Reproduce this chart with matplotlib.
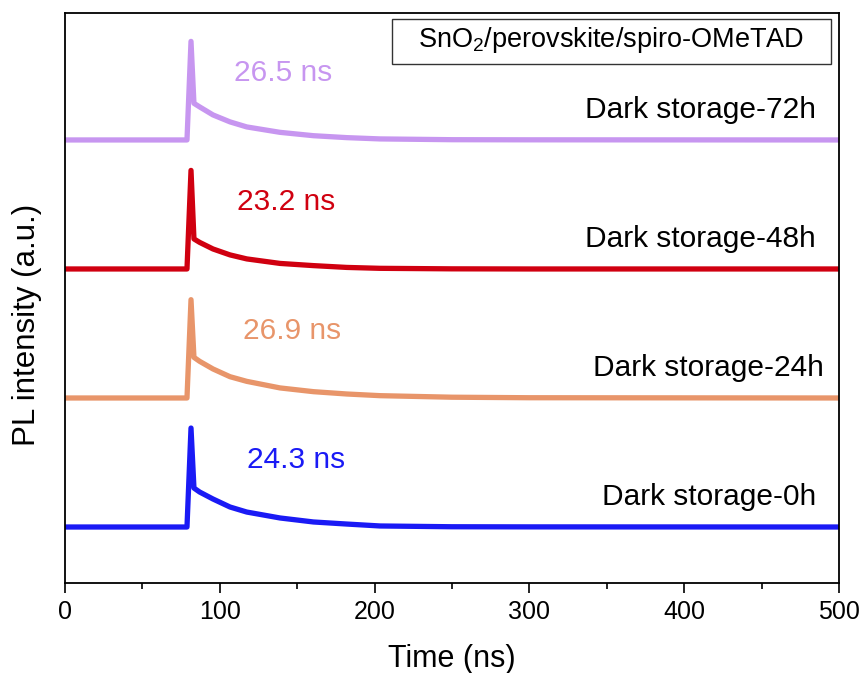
import matplotlib.pyplot as plt
from matplotlib.patches import Rectangle

# time axis (ns) and PL decay (a.u., curve spacing = 1)
time_ns = [0, 78.8, 81.4, 83.3, 87, 95.6, 106.6, 117.4, 138.9, 160.5, 182, 203.5, 250, 300, 500]
pl_0h = [0, 0, 0.767, 0.302, 0.271, 0.217, 0.155, 0.116, 0.070, 0.039, 0.023, 0.008, 0.002, 0.001, 0]
pl_24h = [0, 0, 0.762, 0.315, 0.284, 0.225, 0.165, 0.129, 0.078, 0.049, 0.031, 0.018, 0.006, 0.002, 0]
pl_48h = [0, 0, 0.764, 0.233, 0.206, 0.155, 0.109, 0.078, 0.043, 0.026, 0.012, 0.005, 0.001, 0.0, 0]
pl_72h = [0, 0, 0.764, 0.284, 0.256, 0.194, 0.140, 0.101, 0.059, 0.033, 0.018, 0.008, 0.002, 0.001, 0]

labels = ["Dark storage-0h", "Dark storage-24h", "Dark storage-48h", "Dark storage-72h"]
lifetimes = ["24.3 ns", "26.9 ns", "23.2 ns", "26.5 ns"]
offsets = [0, 1, 2, 3]
colors = ["#1a1af5", "#e8956a", "#d00010", "#c796f0"]

plt.rcParams["font.family"] = ["Liberation Sans", "DejaVu Sans"]
plt.rcParams["mathtext.fontset"] = "custom"
plt.rcParams["mathtext.rm"] = "Liberation Sans"

fig = plt.figure(figsize=(8.61, 6.73), dpi=100)
ax = fig.add_axes([65 / 861, 90 / 673, 774 / 861, 570 / 673])

series = [pl_0h, pl_24h, pl_48h, pl_72h]
for y, off, c in zip(series, offsets, colors):
    ax.plot(time_ns, [v + off for v in y], color=c, linewidth=3.8,
            solid_joinstyle="round", solid_capstyle="round")

# curve names (right aligned) and lifetimes
name_x = [485, 490.5, 485, 485]
life_x = [149.2, 147.0, 142.8, 140.8]
for i in range(4):
    ax.text(name_x[i], offsets[i] + 0.171, labels[i],
            ha="right", va="baseline", fontsize=21.5, color="black")
    ax.text(life_x[i], offsets[i] + 0.454, lifetimes[i],
            ha="center", va="baseline", fontsize=21.5, color=colors[i])

ax.add_patch(Rectangle((0.4225, 0.9105), 0.5672, 0.079, transform=ax.transAxes,
                       facecolor="white", edgecolor="#333333", linewidth=1.0, zorder=3))
ax.text(0.706, 0.9404, r"SnO$_\mathrm{2}$/perovskite/spiro-OMeTAD", transform=ax.transAxes,
        ha="center", va="baseline", fontsize=19.5, zorder=4)

ax.set_xlim(0, 500)
ax.set_ylim(-0.434, 3.984)
ax.set_xticks([0, 100, 200, 300, 400, 500])
ax.set_xticks([50, 150, 250, 350, 450], minor=True)
ax.set_yticks([])
ax.tick_params(axis="x", which="major", direction="out", length=7, width=1.2,
               pad=5, labelsize=18)
ax.tick_params(axis="x", which="minor", direction="out", length=4.3, width=1.2)
for s in ax.spines.values():
    s.set_linewidth(1.3)

fig.text(451.5 / 861, 1 - 659 / 673, "Time (ns)", ha="center", va="center", fontsize=22)
fig.text(27 / 861, 1 - 325 / 673, "PL intensity (a.u.)", ha="center", va="center",
         rotation=90, fontsize=22.5)

plt.savefig("out.png", dpi=100)
